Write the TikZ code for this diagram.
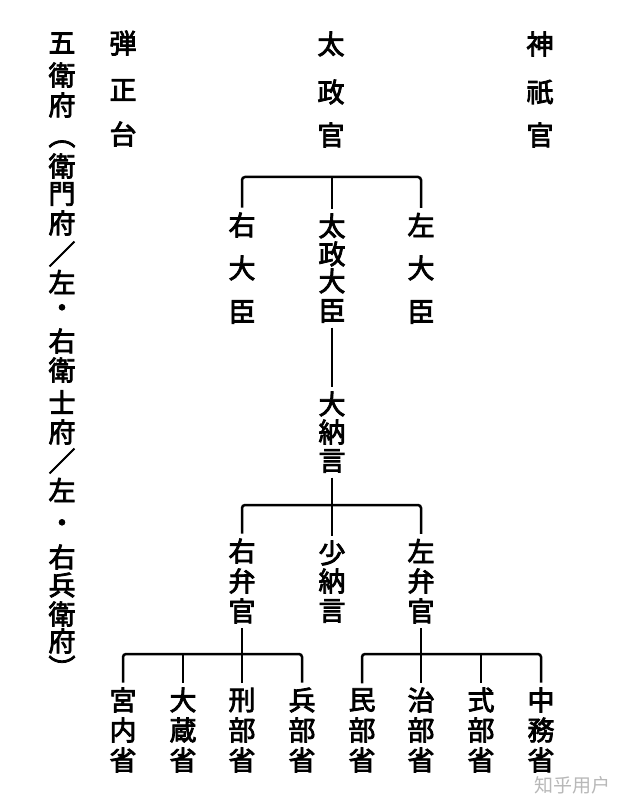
\documentclass[tikz,border=0pt]{standalone}
\usepackage{fontspec}
\newfontfamily\cjk{Noto Sans CJK JP}[FakeBold=3]
\newfontfamily\cjksc{Noto Sans CJK SC}
\usetikzlibrary{fit}
\tikzset{
  ch/.style={font=\cjk\fontsize{27}{27}\selectfont, inner sep=0pt, outer sep=0pt},
  grp/.style={inner sep=0pt, outer sep=5pt},
  link/.style={line width=2.5pt, rounded corners=3pt},
}
\newcommand\vtext[3]{%
  \foreach \yy/\cc [count=\k] in {#3} {\node[ch] (#1-\k) at (#2,\yy) {\cc};}%
}
\begin{document}
\begin{tikzpicture}[x=1pt,y=-1pt]
\fill[white] (0,0) rectangle (624,799);
\useasboundingbox (0,0) rectangle (624,799);

% left column
\vtext{gf}{62}{43/五,75/衛,105/府,144/︵,166/衛,194/門,223/府,254/／,282/左,311/・,341/右,370/衛,402/士,432/府,461/／,490/左,526/・,557/右,585/兵,614/衛,641/府,667/︶}
\node[grp, fit=(gf-1)(gf-22)] (gofu) {};

% top row
\vtext{dj}{123}{43/弾,90/正,134/台}
\node[grp, fit=(dj-1)(dj-3)] (danjo) {};
\vtext{dk}{331}{44/太,92/政,135/官}
\node[grp, fit=(dk-1)(dk-3)] (dajokan) {};
\vtext{jg}{540}{44/神,92/祇,135/官}
\node[grp, fit=(jg-1)(jg-3)] (jingikan) {};

% ministers
\vtext{ud}{242}{225/右,268/大,312/臣}
\node[grp, fit=(ud-1)(ud-3)] (udaijin) {};
\vtext{dd}{332}{226/太,254/政,281/大,311/臣}
\node[grp, fit=(dd-1)(dd-4)] (daijo) {};
\vtext{sd}{421}{225/左,268/大,312/臣}
\node[grp, fit=(sd-1)(sd-3)] (sadaijin) {};

% dainagon
\vtext{dn}{332}{404/大,432/納,461/言}
\node[grp, fit=(dn-1)(dn-3)] (dainagon) {};

% benkan / shonagon
\vtext{ub}{242}{551/右,581/弁,611/官}
\node[grp, fit=(ub-1)(ub-3)] (ubenkan) {};
\vtext{sn}{332}{553/少,581/納,611/言}
\node[grp, fit=(sn-1)(sn-3)] (shonagon) {};
\vtext{sb}{421}{551/左,581/弁,611/官}
\node[grp, fit=(sb-1)(sb-3)] (sabenkan) {};

% ministries
\vtext{ma}{123}{700/宮,730/内,760/省}
\node[grp, fit=(ma-1)(ma-3)] (m1) {};
\vtext{mb}{183}{700/大,730/蔵,760/省}
\node[grp, fit=(mb-1)(mb-3)] (m2) {};
\vtext{mc}{242}{700/刑,730/部,760/省}
\node[grp, fit=(mc-1)(mc-3)] (m3) {};
\vtext{md}{302}{700/兵,730/部,760/省}
\node[grp, fit=(md-1)(md-3)] (m4) {};
\vtext{me}{362}{700/民,730/部,760/省}
\node[grp, fit=(me-1)(me-3)] (m5) {};
\vtext{mf}{421}{700/治,730/部,760/省}
\node[grp, fit=(mf-1)(mf-3)] (m6) {};
\vtext{mg}{481}{700/式,730/部,760/省}
\node[grp, fit=(mg-1)(mg-3)] (m7) {};
\vtext{mh}{541}{700/中,730/務,760/省}
\node[grp, fit=(mh-1)(mh-3)] (m8) {};

% connectors
\coordinate (j1) at (332,177);
\draw[link] (udaijin.north) |- (j1) -| (sadaijin.north);
\draw[link] (j1) -- (daijo.north);
\draw[link] (daijo.south) -- (dainagon.north);

\coordinate (j2) at (332,505);
\draw[link] (dainagon.south) -- (j2);
\draw[link] (ubenkan.north) |- (j2) -| (sabenkan.north);
\draw[link] (j2) -- (shonagon.north);

\coordinate (j3) at (242,654);
\draw[link] (ubenkan.south) -- (j3);
\draw[link] (m1.north) |- (j3) -| (m4.north);
\draw[link] (j3) -- (m3.north);
\draw[link] (m2.north) -- (m2.north |- j3);

\coordinate (j4) at (421,654);
\draw[link] (sabenkan.south) -- (j4);
\draw[link] (m5.north) |- (j4) -| (m8.north);
\draw[link] (j4) -- (m6.north);
\draw[link] (m7.north) -- (m7.north |- j4);

% watermark
\node[font=\cjksc\fontsize{19}{19}\selectfont, text=black!28, inner sep=0pt] (wm) at (572,785) {知乎用户};
\end{tikzpicture}
\end{document}
